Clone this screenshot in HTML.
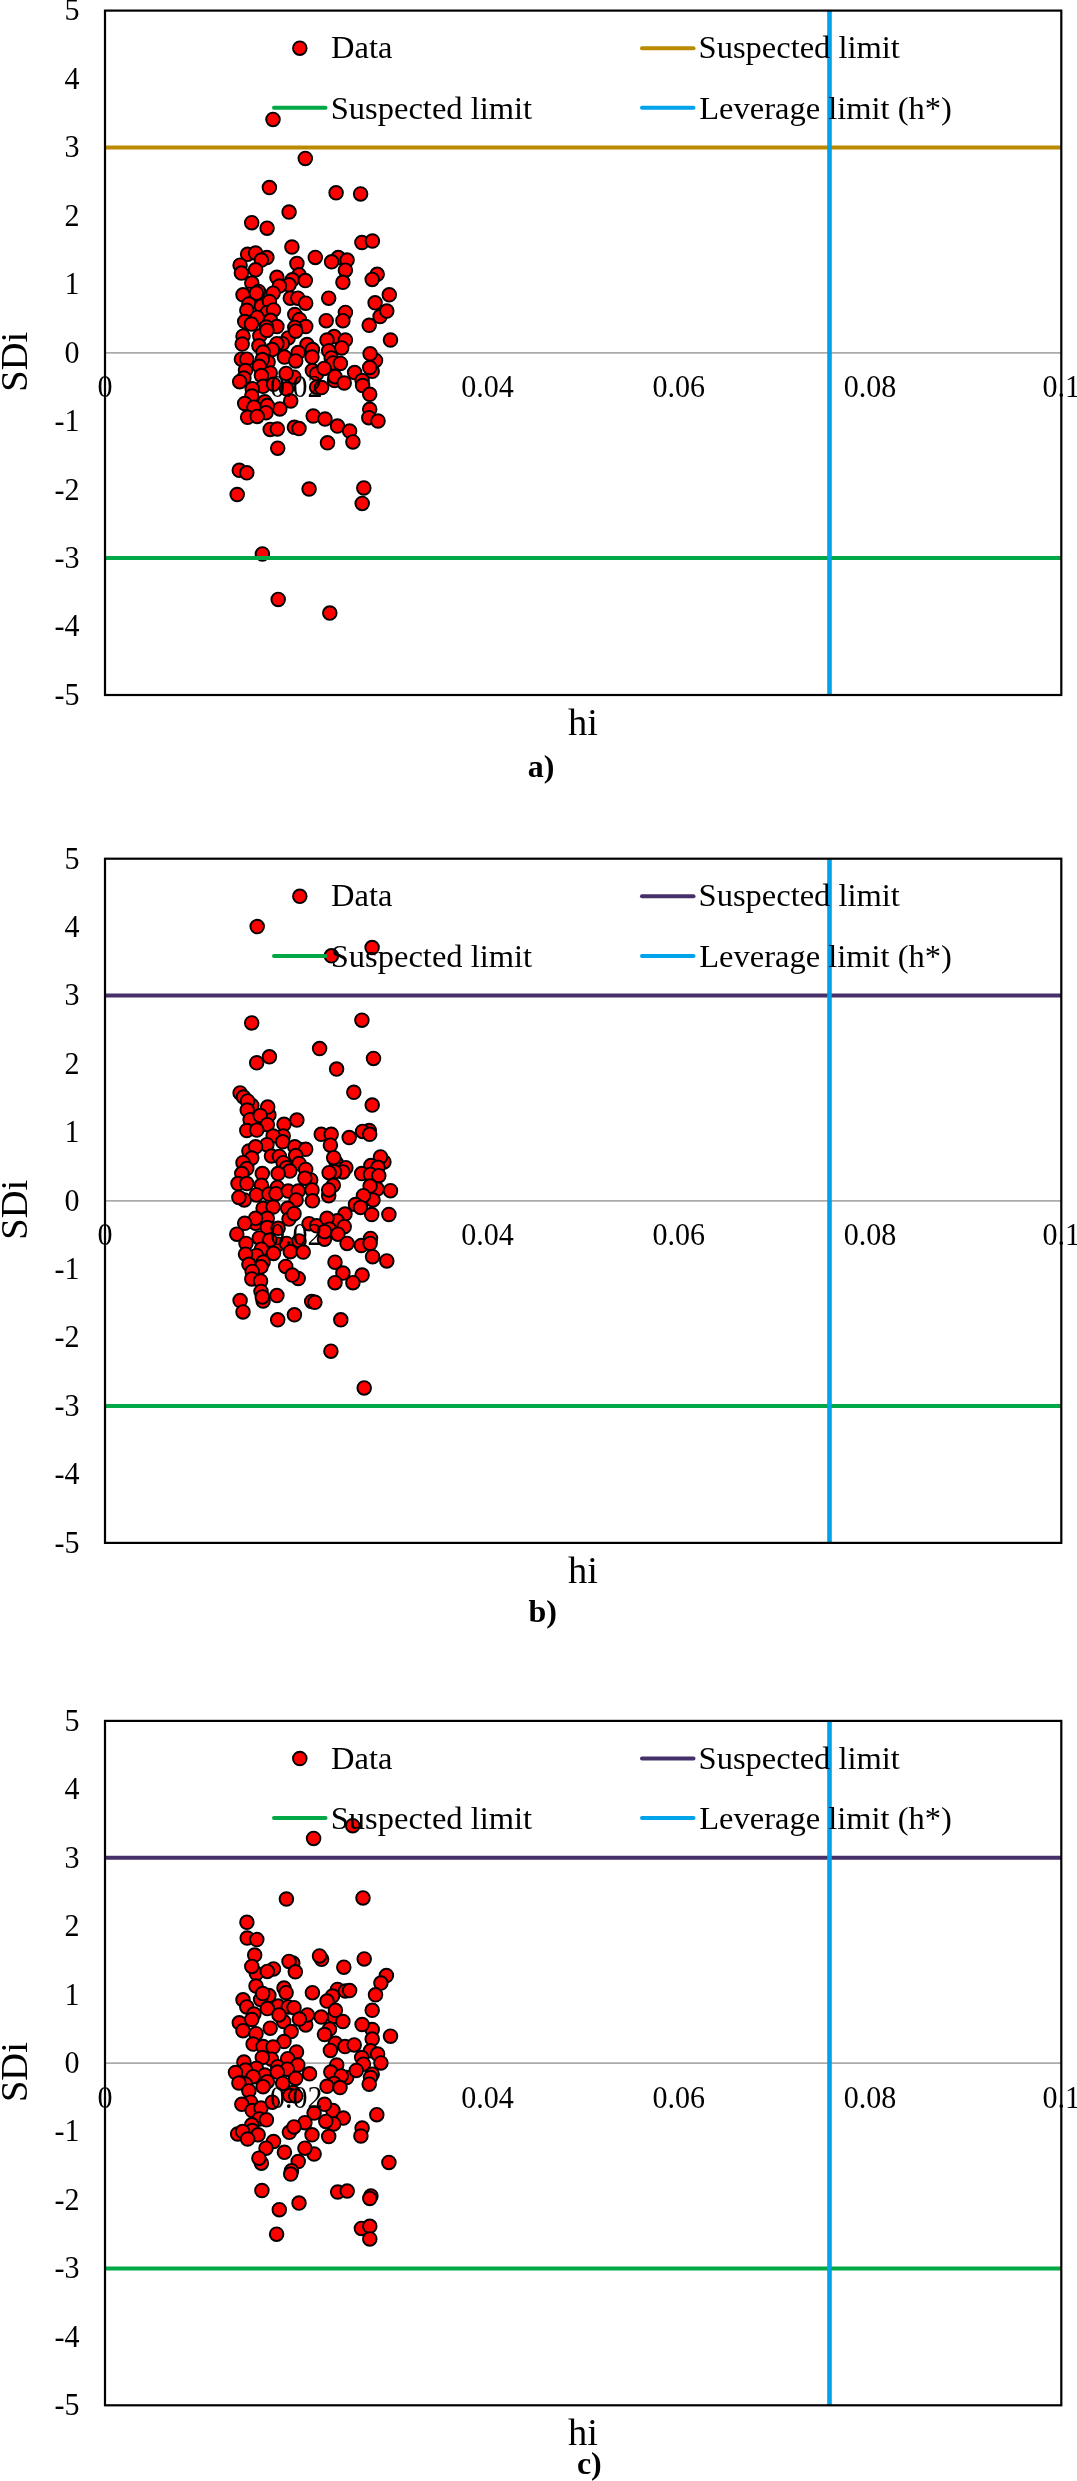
<!DOCTYPE html>
<html><head><meta charset="utf-8"><style>
html,body{margin:0;padding:0;background:#fff;}
svg{display:block;will-change:transform;}
text{font-family:"Liberation Serif",serif;fill:#000;}
.ax{font-size:31px;}
.lg{font-size:32.5px;}
.tt{font-size:38.5px;}
.cp{font-size:32px;font-weight:bold;}
</style></head><body>
<svg width="1077" height="2481" viewBox="0 0 1077 2481">
<rect x="0" y="0" width="1077" height="2481" fill="#fff"/>
<g>
<line x1="105.0" y1="352.8" x2="1061.3" y2="352.8" stroke="#ABABAB" stroke-width="1.7"/>
<text class="ax" transform="translate(79.5,704.8) scale(0.97,1)" text-anchor="end">-5</text>
<text class="ax" transform="translate(79.5,636.4) scale(0.97,1)" text-anchor="end">-4</text>
<text class="ax" transform="translate(79.5,567.9) scale(0.97,1)" text-anchor="end">-3</text>
<text class="ax" transform="translate(79.5,499.5) scale(0.97,1)" text-anchor="end">-2</text>
<text class="ax" transform="translate(79.5,431.0) scale(0.97,1)" text-anchor="end">-1</text>
<text class="ax" transform="translate(79.5,362.6) scale(0.97,1)" text-anchor="end">0</text>
<text class="ax" transform="translate(79.5,294.2) scale(0.97,1)" text-anchor="end">1</text>
<text class="ax" transform="translate(79.5,225.7) scale(0.97,1)" text-anchor="end">2</text>
<text class="ax" transform="translate(79.5,157.3) scale(0.97,1)" text-anchor="end">3</text>
<text class="ax" transform="translate(79.5,88.8) scale(0.97,1)" text-anchor="end">4</text>
<text class="ax" transform="translate(79.5,20.4) scale(0.97,1)" text-anchor="end">5</text>
<circle cx="273.0" cy="119.4" r="6.8" fill="#FF0000" stroke="#000" stroke-width="1.9"/>
<circle cx="305.3" cy="158.4" r="6.8" fill="#FF0000" stroke="#000" stroke-width="1.9"/>
<circle cx="269.4" cy="187.6" r="6.8" fill="#FF0000" stroke="#000" stroke-width="1.9"/>
<circle cx="336.1" cy="192.8" r="6.8" fill="#FF0000" stroke="#000" stroke-width="1.9"/>
<circle cx="360.6" cy="193.9" r="6.8" fill="#FF0000" stroke="#000" stroke-width="1.9"/>
<circle cx="289.1" cy="212.1" r="6.8" fill="#FF0000" stroke="#000" stroke-width="1.9"/>
<circle cx="251.7" cy="222.7" r="6.8" fill="#FF0000" stroke="#000" stroke-width="1.9"/>
<circle cx="267.1" cy="228.2" r="6.8" fill="#FF0000" stroke="#000" stroke-width="1.9"/>
<circle cx="361.9" cy="242.5" r="6.8" fill="#FF0000" stroke="#000" stroke-width="1.9"/>
<circle cx="372.4" cy="241.0" r="6.8" fill="#FF0000" stroke="#000" stroke-width="1.9"/>
<circle cx="291.9" cy="247.0" r="6.8" fill="#FF0000" stroke="#000" stroke-width="1.9"/>
<circle cx="315.3" cy="257.4" r="6.8" fill="#FF0000" stroke="#000" stroke-width="1.9"/>
<circle cx="247.6" cy="254.3" r="6.8" fill="#FF0000" stroke="#000" stroke-width="1.9"/>
<circle cx="266.9" cy="257.6" r="6.8" fill="#FF0000" stroke="#000" stroke-width="1.9"/>
<circle cx="255.6" cy="253.0" r="6.8" fill="#FF0000" stroke="#000" stroke-width="1.9"/>
<circle cx="261.4" cy="260.1" r="6.8" fill="#FF0000" stroke="#000" stroke-width="1.9"/>
<circle cx="240.1" cy="265.2" r="6.8" fill="#FF0000" stroke="#000" stroke-width="1.9"/>
<circle cx="241.4" cy="273.1" r="6.8" fill="#FF0000" stroke="#000" stroke-width="1.9"/>
<circle cx="255.6" cy="269.8" r="6.8" fill="#FF0000" stroke="#000" stroke-width="1.9"/>
<circle cx="296.9" cy="263.5" r="6.8" fill="#FF0000" stroke="#000" stroke-width="1.9"/>
<circle cx="299.0" cy="274.8" r="6.8" fill="#FF0000" stroke="#000" stroke-width="1.9"/>
<circle cx="276.9" cy="277.3" r="6.8" fill="#FF0000" stroke="#000" stroke-width="1.9"/>
<circle cx="292.3" cy="279.8" r="6.8" fill="#FF0000" stroke="#000" stroke-width="1.9"/>
<circle cx="305.3" cy="280.6" r="6.8" fill="#FF0000" stroke="#000" stroke-width="1.9"/>
<circle cx="289.0" cy="284.8" r="6.8" fill="#FF0000" stroke="#000" stroke-width="1.9"/>
<circle cx="279.4" cy="286.0" r="6.8" fill="#FF0000" stroke="#000" stroke-width="1.9"/>
<circle cx="251.8" cy="283.1" r="6.8" fill="#FF0000" stroke="#000" stroke-width="1.9"/>
<circle cx="273.1" cy="293.2" r="6.8" fill="#FF0000" stroke="#000" stroke-width="1.9"/>
<circle cx="249.3" cy="294.4" r="6.8" fill="#FF0000" stroke="#000" stroke-width="1.9"/>
<circle cx="243.0" cy="294.8" r="6.8" fill="#FF0000" stroke="#000" stroke-width="1.9"/>
<circle cx="258.5" cy="291.5" r="6.8" fill="#FF0000" stroke="#000" stroke-width="1.9"/>
<circle cx="256.4" cy="293.2" r="6.8" fill="#FF0000" stroke="#000" stroke-width="1.9"/>
<circle cx="290.3" cy="298.2" r="6.8" fill="#FF0000" stroke="#000" stroke-width="1.9"/>
<circle cx="297.8" cy="298.2" r="6.8" fill="#FF0000" stroke="#000" stroke-width="1.9"/>
<circle cx="305.7" cy="303.2" r="6.8" fill="#FF0000" stroke="#000" stroke-width="1.9"/>
<circle cx="248.9" cy="304.0" r="6.8" fill="#FF0000" stroke="#000" stroke-width="1.9"/>
<circle cx="246.8" cy="310.3" r="6.8" fill="#FF0000" stroke="#000" stroke-width="1.9"/>
<circle cx="261.4" cy="306.1" r="6.8" fill="#FF0000" stroke="#000" stroke-width="1.9"/>
<circle cx="269.4" cy="301.5" r="6.8" fill="#FF0000" stroke="#000" stroke-width="1.9"/>
<circle cx="267.3" cy="312.4" r="6.8" fill="#FF0000" stroke="#000" stroke-width="1.9"/>
<circle cx="273.5" cy="309.9" r="6.8" fill="#FF0000" stroke="#000" stroke-width="1.9"/>
<circle cx="294.8" cy="314.5" r="6.8" fill="#FF0000" stroke="#000" stroke-width="1.9"/>
<circle cx="299.4" cy="319.5" r="6.8" fill="#FF0000" stroke="#000" stroke-width="1.9"/>
<circle cx="257.2" cy="317.4" r="6.8" fill="#FF0000" stroke="#000" stroke-width="1.9"/>
<circle cx="270.6" cy="320.3" r="6.8" fill="#FF0000" stroke="#000" stroke-width="1.9"/>
<circle cx="244.7" cy="321.6" r="6.8" fill="#FF0000" stroke="#000" stroke-width="1.9"/>
<circle cx="251.4" cy="324.1" r="6.8" fill="#FF0000" stroke="#000" stroke-width="1.9"/>
<circle cx="276.9" cy="326.6" r="6.8" fill="#FF0000" stroke="#000" stroke-width="1.9"/>
<circle cx="266.4" cy="327.0" r="6.8" fill="#FF0000" stroke="#000" stroke-width="1.9"/>
<circle cx="305.7" cy="326.6" r="6.8" fill="#FF0000" stroke="#000" stroke-width="1.9"/>
<circle cx="294.8" cy="327.4" r="6.8" fill="#FF0000" stroke="#000" stroke-width="1.9"/>
<circle cx="338.3" cy="257.6" r="6.8" fill="#FF0000" stroke="#000" stroke-width="1.9"/>
<circle cx="331.6" cy="261.8" r="6.8" fill="#FF0000" stroke="#000" stroke-width="1.9"/>
<circle cx="347.1" cy="260.1" r="6.8" fill="#FF0000" stroke="#000" stroke-width="1.9"/>
<circle cx="345.4" cy="270.2" r="6.8" fill="#FF0000" stroke="#000" stroke-width="1.9"/>
<circle cx="342.9" cy="282.3" r="6.8" fill="#FF0000" stroke="#000" stroke-width="1.9"/>
<circle cx="328.7" cy="298.2" r="6.8" fill="#FF0000" stroke="#000" stroke-width="1.9"/>
<circle cx="377.2" cy="274.3" r="6.8" fill="#FF0000" stroke="#000" stroke-width="1.9"/>
<circle cx="372.2" cy="279.4" r="6.8" fill="#FF0000" stroke="#000" stroke-width="1.9"/>
<circle cx="389.3" cy="294.8" r="6.8" fill="#FF0000" stroke="#000" stroke-width="1.9"/>
<circle cx="375.1" cy="302.8" r="6.8" fill="#FF0000" stroke="#000" stroke-width="1.9"/>
<circle cx="380.1" cy="316.5" r="6.8" fill="#FF0000" stroke="#000" stroke-width="1.9"/>
<circle cx="386.8" cy="311.1" r="6.8" fill="#FF0000" stroke="#000" stroke-width="1.9"/>
<circle cx="345.4" cy="312.4" r="6.8" fill="#FF0000" stroke="#000" stroke-width="1.9"/>
<circle cx="342.9" cy="320.7" r="6.8" fill="#FF0000" stroke="#000" stroke-width="1.9"/>
<circle cx="326.2" cy="320.7" r="6.8" fill="#FF0000" stroke="#000" stroke-width="1.9"/>
<circle cx="369.2" cy="325.3" r="6.8" fill="#FF0000" stroke="#000" stroke-width="1.9"/>
<circle cx="288.2" cy="337.9" r="6.8" fill="#FF0000" stroke="#000" stroke-width="1.9"/>
<circle cx="259.8" cy="335.8" r="6.8" fill="#FF0000" stroke="#000" stroke-width="1.9"/>
<circle cx="266.9" cy="330.4" r="6.8" fill="#FF0000" stroke="#000" stroke-width="1.9"/>
<circle cx="295.7" cy="331.2" r="6.8" fill="#FF0000" stroke="#000" stroke-width="1.9"/>
<circle cx="243.0" cy="336.2" r="6.8" fill="#FF0000" stroke="#000" stroke-width="1.9"/>
<circle cx="242.2" cy="344.1" r="6.8" fill="#FF0000" stroke="#000" stroke-width="1.9"/>
<circle cx="258.9" cy="345.8" r="6.8" fill="#FF0000" stroke="#000" stroke-width="1.9"/>
<circle cx="282.3" cy="343.7" r="6.8" fill="#FF0000" stroke="#000" stroke-width="1.9"/>
<circle cx="276.9" cy="343.7" r="6.8" fill="#FF0000" stroke="#000" stroke-width="1.9"/>
<circle cx="272.3" cy="349.6" r="6.8" fill="#FF0000" stroke="#000" stroke-width="1.9"/>
<circle cx="307.0" cy="344.6" r="6.8" fill="#FF0000" stroke="#000" stroke-width="1.9"/>
<circle cx="298.2" cy="352.5" r="6.8" fill="#FF0000" stroke="#000" stroke-width="1.9"/>
<circle cx="284.4" cy="357.1" r="6.8" fill="#FF0000" stroke="#000" stroke-width="1.9"/>
<circle cx="295.7" cy="360.9" r="6.8" fill="#FF0000" stroke="#000" stroke-width="1.9"/>
<circle cx="312.4" cy="349.6" r="6.8" fill="#FF0000" stroke="#000" stroke-width="1.9"/>
<circle cx="312.0" cy="357.1" r="6.8" fill="#FF0000" stroke="#000" stroke-width="1.9"/>
<circle cx="241.4" cy="359.2" r="6.8" fill="#FF0000" stroke="#000" stroke-width="1.9"/>
<circle cx="246.8" cy="359.2" r="6.8" fill="#FF0000" stroke="#000" stroke-width="1.9"/>
<circle cx="263.1" cy="352.1" r="6.8" fill="#FF0000" stroke="#000" stroke-width="1.9"/>
<circle cx="268.1" cy="362.1" r="6.8" fill="#FF0000" stroke="#000" stroke-width="1.9"/>
<circle cx="262.3" cy="359.6" r="6.8" fill="#FF0000" stroke="#000" stroke-width="1.9"/>
<circle cx="259.3" cy="366.3" r="6.8" fill="#FF0000" stroke="#000" stroke-width="1.9"/>
<circle cx="245.5" cy="370.5" r="6.8" fill="#FF0000" stroke="#000" stroke-width="1.9"/>
<circle cx="270.2" cy="373.0" r="6.8" fill="#FF0000" stroke="#000" stroke-width="1.9"/>
<circle cx="294.0" cy="377.2" r="6.8" fill="#FF0000" stroke="#000" stroke-width="1.9"/>
<circle cx="286.1" cy="373.4" r="6.8" fill="#FF0000" stroke="#000" stroke-width="1.9"/>
<circle cx="243.9" cy="378.0" r="6.8" fill="#FF0000" stroke="#000" stroke-width="1.9"/>
<circle cx="239.7" cy="381.7" r="6.8" fill="#FF0000" stroke="#000" stroke-width="1.9"/>
<circle cx="261.4" cy="375.5" r="6.8" fill="#FF0000" stroke="#000" stroke-width="1.9"/>
<circle cx="263.1" cy="386.3" r="6.8" fill="#FF0000" stroke="#000" stroke-width="1.9"/>
<circle cx="273.5" cy="384.3" r="6.8" fill="#FF0000" stroke="#000" stroke-width="1.9"/>
<circle cx="286.5" cy="388.8" r="6.8" fill="#FF0000" stroke="#000" stroke-width="1.9"/>
<circle cx="252.2" cy="388.8" r="6.8" fill="#FF0000" stroke="#000" stroke-width="1.9"/>
<circle cx="251.8" cy="396.0" r="6.8" fill="#FF0000" stroke="#000" stroke-width="1.9"/>
<circle cx="290.7" cy="401.0" r="6.8" fill="#FF0000" stroke="#000" stroke-width="1.9"/>
<circle cx="264.8" cy="401.8" r="6.8" fill="#FF0000" stroke="#000" stroke-width="1.9"/>
<circle cx="244.7" cy="403.5" r="6.8" fill="#FF0000" stroke="#000" stroke-width="1.9"/>
<circle cx="253.9" cy="407.2" r="6.8" fill="#FF0000" stroke="#000" stroke-width="1.9"/>
<circle cx="279.8" cy="408.9" r="6.8" fill="#FF0000" stroke="#000" stroke-width="1.9"/>
<circle cx="312.4" cy="370.5" r="6.8" fill="#FF0000" stroke="#000" stroke-width="1.9"/>
<circle cx="316.6" cy="373.8" r="6.8" fill="#FF0000" stroke="#000" stroke-width="1.9"/>
<circle cx="316.6" cy="387.2" r="6.8" fill="#FF0000" stroke="#000" stroke-width="1.9"/>
<circle cx="267.3" cy="405.6" r="6.8" fill="#FF0000" stroke="#000" stroke-width="1.9"/>
<circle cx="334.1" cy="336.6" r="6.8" fill="#FF0000" stroke="#000" stroke-width="1.9"/>
<circle cx="390.5" cy="340.0" r="6.8" fill="#FF0000" stroke="#000" stroke-width="1.9"/>
<circle cx="327.0" cy="340.0" r="6.8" fill="#FF0000" stroke="#000" stroke-width="1.9"/>
<circle cx="345.4" cy="340.0" r="6.8" fill="#FF0000" stroke="#000" stroke-width="1.9"/>
<circle cx="341.7" cy="347.9" r="6.8" fill="#FF0000" stroke="#000" stroke-width="1.9"/>
<circle cx="328.7" cy="350.8" r="6.8" fill="#FF0000" stroke="#000" stroke-width="1.9"/>
<circle cx="375.5" cy="360.4" r="6.8" fill="#FF0000" stroke="#000" stroke-width="1.9"/>
<circle cx="370.1" cy="353.8" r="6.8" fill="#FF0000" stroke="#000" stroke-width="1.9"/>
<circle cx="372.2" cy="371.3" r="6.8" fill="#FF0000" stroke="#000" stroke-width="1.9"/>
<circle cx="369.7" cy="367.5" r="6.8" fill="#FF0000" stroke="#000" stroke-width="1.9"/>
<circle cx="331.2" cy="357.9" r="6.8" fill="#FF0000" stroke="#000" stroke-width="1.9"/>
<circle cx="332.9" cy="362.9" r="6.8" fill="#FF0000" stroke="#000" stroke-width="1.9"/>
<circle cx="340.4" cy="363.4" r="6.8" fill="#FF0000" stroke="#000" stroke-width="1.9"/>
<circle cx="324.1" cy="368.4" r="6.8" fill="#FF0000" stroke="#000" stroke-width="1.9"/>
<circle cx="334.6" cy="380.5" r="6.8" fill="#FF0000" stroke="#000" stroke-width="1.9"/>
<circle cx="335.0" cy="376.7" r="6.8" fill="#FF0000" stroke="#000" stroke-width="1.9"/>
<circle cx="344.2" cy="383.0" r="6.8" fill="#FF0000" stroke="#000" stroke-width="1.9"/>
<circle cx="321.6" cy="387.6" r="6.8" fill="#FF0000" stroke="#000" stroke-width="1.9"/>
<circle cx="354.6" cy="372.6" r="6.8" fill="#FF0000" stroke="#000" stroke-width="1.9"/>
<circle cx="362.1" cy="380.5" r="6.8" fill="#FF0000" stroke="#000" stroke-width="1.9"/>
<circle cx="362.6" cy="385.5" r="6.8" fill="#FF0000" stroke="#000" stroke-width="1.9"/>
<circle cx="369.7" cy="394.3" r="6.8" fill="#FF0000" stroke="#000" stroke-width="1.9"/>
<circle cx="369.7" cy="409.3" r="6.8" fill="#FF0000" stroke="#000" stroke-width="1.9"/>
<circle cx="266.0" cy="412.7" r="6.8" fill="#FF0000" stroke="#000" stroke-width="1.9"/>
<circle cx="247.6" cy="417.3" r="6.8" fill="#FF0000" stroke="#000" stroke-width="1.9"/>
<circle cx="257.2" cy="416.4" r="6.8" fill="#FF0000" stroke="#000" stroke-width="1.9"/>
<circle cx="270.2" cy="429.4" r="6.8" fill="#FF0000" stroke="#000" stroke-width="1.9"/>
<circle cx="277.3" cy="429.0" r="6.8" fill="#FF0000" stroke="#000" stroke-width="1.9"/>
<circle cx="294.4" cy="427.3" r="6.8" fill="#FF0000" stroke="#000" stroke-width="1.9"/>
<circle cx="299.0" cy="428.6" r="6.8" fill="#FF0000" stroke="#000" stroke-width="1.9"/>
<circle cx="277.7" cy="448.2" r="6.8" fill="#FF0000" stroke="#000" stroke-width="1.9"/>
<circle cx="239.3" cy="470.3" r="6.8" fill="#FF0000" stroke="#000" stroke-width="1.9"/>
<circle cx="246.8" cy="472.8" r="6.8" fill="#FF0000" stroke="#000" stroke-width="1.9"/>
<circle cx="237.2" cy="494.5" r="6.8" fill="#FF0000" stroke="#000" stroke-width="1.9"/>
<circle cx="309.1" cy="489.0" r="6.8" fill="#FF0000" stroke="#000" stroke-width="1.9"/>
<circle cx="313.2" cy="416.0" r="6.8" fill="#FF0000" stroke="#000" stroke-width="1.9"/>
<circle cx="325.0" cy="419.0" r="6.8" fill="#FF0000" stroke="#000" stroke-width="1.9"/>
<circle cx="337.5" cy="426.1" r="6.8" fill="#FF0000" stroke="#000" stroke-width="1.9"/>
<circle cx="349.6" cy="431.1" r="6.8" fill="#FF0000" stroke="#000" stroke-width="1.9"/>
<circle cx="352.9" cy="441.9" r="6.8" fill="#FF0000" stroke="#000" stroke-width="1.9"/>
<circle cx="327.5" cy="442.8" r="6.8" fill="#FF0000" stroke="#000" stroke-width="1.9"/>
<circle cx="368.8" cy="417.7" r="6.8" fill="#FF0000" stroke="#000" stroke-width="1.9"/>
<circle cx="378.0" cy="421.0" r="6.8" fill="#FF0000" stroke="#000" stroke-width="1.9"/>
<circle cx="363.8" cy="487.9" r="6.8" fill="#FF0000" stroke="#000" stroke-width="1.9"/>
<circle cx="362.2" cy="503.4" r="6.8" fill="#FF0000" stroke="#000" stroke-width="1.9"/>
<circle cx="262.4" cy="553.9" r="6.8" fill="#FF0000" stroke="#000" stroke-width="1.9"/>
<circle cx="278.2" cy="599.4" r="6.8" fill="#FF0000" stroke="#000" stroke-width="1.9"/>
<circle cx="329.8" cy="613.1" r="6.8" fill="#FF0000" stroke="#000" stroke-width="1.9"/>
<text class="ax" transform="translate(105.0,397.4) scale(0.97,1)" text-anchor="middle">0</text>
<text class="ax" transform="translate(296.3,397.4) scale(0.97,1)" text-anchor="middle">0.02</text>
<text class="ax" transform="translate(487.5,397.4) scale(0.97,1)" text-anchor="middle">0.04</text>
<text class="ax" transform="translate(678.8,397.4) scale(0.97,1)" text-anchor="middle">0.06</text>
<text class="ax" transform="translate(870.0,397.4) scale(0.97,1)" text-anchor="middle">0.08</text>
<text class="ax" transform="translate(1061.3,397.4) scale(0.97,1)" text-anchor="middle">0.1</text>
<line x1="105.0" y1="147.5" x2="1061.3" y2="147.5" stroke="#BB8A00" stroke-width="4"/>
<line x1="105.0" y1="558.1" x2="1061.3" y2="558.1" stroke="#00A846" stroke-width="4"/>
<line x1="829.5" y1="10.6" x2="829.5" y2="695.0" stroke="#00A2EA" stroke-width="4.6"/>
<rect x="105.0" y="10.6" width="956.3" height="684.4" fill="none" stroke="#000" stroke-width="2.2"/>
<circle cx="299.8" cy="48.2" r="6.8" fill="#FF0000" stroke="#000" stroke-width="1.9"/>
<text class="lg" x="331" y="58.2">Data</text>
<line x1="274" y1="107.8" x2="325.5" y2="107.8" stroke="#00A846" stroke-width="4" stroke-linecap="round"/>
<text class="lg" x="330.8" y="118.7">Suspected limit</text>
<line x1="642" y1="48.2" x2="693.5" y2="48.2" stroke="#BB8A00" stroke-width="4" stroke-linecap="round"/>
<text class="lg" x="698.6" y="58.2">Suspected limit</text>
<line x1="642" y1="107.8" x2="693.5" y2="107.8" stroke="#00A2EA" stroke-width="4" stroke-linecap="round"/>
<text class="lg" x="699.2" y="118.7">Leverage limit (h*)</text>
<text class="tt" transform="translate(27,361.8) rotate(-90)" text-anchor="middle">SDi</text>
<text class="tt" x="583" y="735.1" text-anchor="middle">hi</text>
<text class="cp" x="527.7" y="776.8">a)</text>
</g>
<g>
<line x1="105.0" y1="1200.8" x2="1061.3" y2="1200.8" stroke="#ABABAB" stroke-width="1.7"/>
<text class="ax" transform="translate(79.5,1552.7) scale(0.97,1)" text-anchor="end">-5</text>
<text class="ax" transform="translate(79.5,1484.3) scale(0.97,1)" text-anchor="end">-4</text>
<text class="ax" transform="translate(79.5,1415.9) scale(0.97,1)" text-anchor="end">-3</text>
<text class="ax" transform="translate(79.5,1347.4) scale(0.97,1)" text-anchor="end">-2</text>
<text class="ax" transform="translate(79.5,1279.0) scale(0.97,1)" text-anchor="end">-1</text>
<text class="ax" transform="translate(79.5,1210.6) scale(0.97,1)" text-anchor="end">0</text>
<text class="ax" transform="translate(79.5,1142.2) scale(0.97,1)" text-anchor="end">1</text>
<text class="ax" transform="translate(79.5,1073.8) scale(0.97,1)" text-anchor="end">2</text>
<text class="ax" transform="translate(79.5,1005.3) scale(0.97,1)" text-anchor="end">3</text>
<text class="ax" transform="translate(79.5,936.9) scale(0.97,1)" text-anchor="end">4</text>
<text class="ax" transform="translate(79.5,868.5) scale(0.97,1)" text-anchor="end">5</text>
<circle cx="257.2" cy="926.6" r="6.8" fill="#FF0000" stroke="#000" stroke-width="1.9"/>
<circle cx="372.1" cy="947.6" r="6.8" fill="#FF0000" stroke="#000" stroke-width="1.9"/>
<circle cx="331.4" cy="955.8" r="6.8" fill="#FF0000" stroke="#000" stroke-width="1.9"/>
<circle cx="251.7" cy="1022.9" r="6.8" fill="#FF0000" stroke="#000" stroke-width="1.9"/>
<circle cx="361.9" cy="1020.2" r="6.8" fill="#FF0000" stroke="#000" stroke-width="1.9"/>
<circle cx="319.6" cy="1048.6" r="6.8" fill="#FF0000" stroke="#000" stroke-width="1.9"/>
<circle cx="269.4" cy="1056.8" r="6.8" fill="#FF0000" stroke="#000" stroke-width="1.9"/>
<circle cx="256.7" cy="1062.8" r="6.8" fill="#FF0000" stroke="#000" stroke-width="1.9"/>
<circle cx="373.5" cy="1058.4" r="6.8" fill="#FF0000" stroke="#000" stroke-width="1.9"/>
<circle cx="336.6" cy="1069.1" r="6.8" fill="#FF0000" stroke="#000" stroke-width="1.9"/>
<circle cx="353.8" cy="1092.3" r="6.8" fill="#FF0000" stroke="#000" stroke-width="1.9"/>
<circle cx="372.2" cy="1105.1" r="6.8" fill="#FF0000" stroke="#000" stroke-width="1.9"/>
<circle cx="240.1" cy="1092.9" r="6.8" fill="#FF0000" stroke="#000" stroke-width="1.9"/>
<circle cx="243.5" cy="1097.1" r="6.8" fill="#FF0000" stroke="#000" stroke-width="1.9"/>
<circle cx="251.8" cy="1105.5" r="6.8" fill="#FF0000" stroke="#000" stroke-width="1.9"/>
<circle cx="247.6" cy="1100.9" r="6.8" fill="#FF0000" stroke="#000" stroke-width="1.9"/>
<circle cx="247.2" cy="1110.1" r="6.8" fill="#FF0000" stroke="#000" stroke-width="1.9"/>
<circle cx="268.9" cy="1115.1" r="6.8" fill="#FF0000" stroke="#000" stroke-width="1.9"/>
<circle cx="267.7" cy="1107.1" r="6.8" fill="#FF0000" stroke="#000" stroke-width="1.9"/>
<circle cx="250.1" cy="1119.7" r="6.8" fill="#FF0000" stroke="#000" stroke-width="1.9"/>
<circle cx="260.2" cy="1115.5" r="6.8" fill="#FF0000" stroke="#000" stroke-width="1.9"/>
<circle cx="267.3" cy="1124.7" r="6.8" fill="#FF0000" stroke="#000" stroke-width="1.9"/>
<circle cx="246.8" cy="1130.5" r="6.8" fill="#FF0000" stroke="#000" stroke-width="1.9"/>
<circle cx="256.8" cy="1130.1" r="6.8" fill="#FF0000" stroke="#000" stroke-width="1.9"/>
<circle cx="284.0" cy="1124.3" r="6.8" fill="#FF0000" stroke="#000" stroke-width="1.9"/>
<circle cx="296.9" cy="1120.1" r="6.8" fill="#FF0000" stroke="#000" stroke-width="1.9"/>
<circle cx="283.2" cy="1136.0" r="6.8" fill="#FF0000" stroke="#000" stroke-width="1.9"/>
<circle cx="273.1" cy="1136.0" r="6.8" fill="#FF0000" stroke="#000" stroke-width="1.9"/>
<circle cx="282.7" cy="1141.8" r="6.8" fill="#FF0000" stroke="#000" stroke-width="1.9"/>
<circle cx="266.9" cy="1144.7" r="6.8" fill="#FF0000" stroke="#000" stroke-width="1.9"/>
<circle cx="248.9" cy="1151.0" r="6.8" fill="#FF0000" stroke="#000" stroke-width="1.9"/>
<circle cx="255.6" cy="1146.8" r="6.8" fill="#FF0000" stroke="#000" stroke-width="1.9"/>
<circle cx="251.8" cy="1158.1" r="6.8" fill="#FF0000" stroke="#000" stroke-width="1.9"/>
<circle cx="243.0" cy="1162.7" r="6.8" fill="#FF0000" stroke="#000" stroke-width="1.9"/>
<circle cx="246.8" cy="1168.6" r="6.8" fill="#FF0000" stroke="#000" stroke-width="1.9"/>
<circle cx="241.8" cy="1173.6" r="6.8" fill="#FF0000" stroke="#000" stroke-width="1.9"/>
<circle cx="262.3" cy="1173.6" r="6.8" fill="#FF0000" stroke="#000" stroke-width="1.9"/>
<circle cx="271.5" cy="1156.0" r="6.8" fill="#FF0000" stroke="#000" stroke-width="1.9"/>
<circle cx="279.4" cy="1156.4" r="6.8" fill="#FF0000" stroke="#000" stroke-width="1.9"/>
<circle cx="299.0" cy="1149.3" r="6.8" fill="#FF0000" stroke="#000" stroke-width="1.9"/>
<circle cx="294.8" cy="1146.8" r="6.8" fill="#FF0000" stroke="#000" stroke-width="1.9"/>
<circle cx="305.7" cy="1149.3" r="6.8" fill="#FF0000" stroke="#000" stroke-width="1.9"/>
<circle cx="295.7" cy="1155.6" r="6.8" fill="#FF0000" stroke="#000" stroke-width="1.9"/>
<circle cx="283.2" cy="1162.7" r="6.8" fill="#FF0000" stroke="#000" stroke-width="1.9"/>
<circle cx="299.0" cy="1163.5" r="6.8" fill="#FF0000" stroke="#000" stroke-width="1.9"/>
<circle cx="305.7" cy="1169.4" r="6.8" fill="#FF0000" stroke="#000" stroke-width="1.9"/>
<circle cx="286.5" cy="1167.7" r="6.8" fill="#FF0000" stroke="#000" stroke-width="1.9"/>
<circle cx="289.8" cy="1171.1" r="6.8" fill="#FF0000" stroke="#000" stroke-width="1.9"/>
<circle cx="278.1" cy="1173.6" r="6.8" fill="#FF0000" stroke="#000" stroke-width="1.9"/>
<circle cx="321.2" cy="1134.3" r="6.8" fill="#FF0000" stroke="#000" stroke-width="1.9"/>
<circle cx="331.2" cy="1134.3" r="6.8" fill="#FF0000" stroke="#000" stroke-width="1.9"/>
<circle cx="330.4" cy="1145.2" r="6.8" fill="#FF0000" stroke="#000" stroke-width="1.9"/>
<circle cx="349.2" cy="1137.6" r="6.8" fill="#FF0000" stroke="#000" stroke-width="1.9"/>
<circle cx="369.2" cy="1130.5" r="6.8" fill="#FF0000" stroke="#000" stroke-width="1.9"/>
<circle cx="362.6" cy="1131.4" r="6.8" fill="#FF0000" stroke="#000" stroke-width="1.9"/>
<circle cx="369.7" cy="1134.3" r="6.8" fill="#FF0000" stroke="#000" stroke-width="1.9"/>
<circle cx="336.2" cy="1162.7" r="6.8" fill="#FF0000" stroke="#000" stroke-width="1.9"/>
<circle cx="333.7" cy="1157.7" r="6.8" fill="#FF0000" stroke="#000" stroke-width="1.9"/>
<circle cx="345.8" cy="1167.7" r="6.8" fill="#FF0000" stroke="#000" stroke-width="1.9"/>
<circle cx="342.9" cy="1171.9" r="6.8" fill="#FF0000" stroke="#000" stroke-width="1.9"/>
<circle cx="334.6" cy="1171.9" r="6.8" fill="#FF0000" stroke="#000" stroke-width="1.9"/>
<circle cx="329.1" cy="1172.7" r="6.8" fill="#FF0000" stroke="#000" stroke-width="1.9"/>
<circle cx="383.9" cy="1161.9" r="6.8" fill="#FF0000" stroke="#000" stroke-width="1.9"/>
<circle cx="380.5" cy="1156.9" r="6.8" fill="#FF0000" stroke="#000" stroke-width="1.9"/>
<circle cx="370.9" cy="1165.6" r="6.8" fill="#FF0000" stroke="#000" stroke-width="1.9"/>
<circle cx="378.0" cy="1167.3" r="6.8" fill="#FF0000" stroke="#000" stroke-width="1.9"/>
<circle cx="361.7" cy="1173.6" r="6.8" fill="#FF0000" stroke="#000" stroke-width="1.9"/>
<circle cx="370.5" cy="1174.4" r="6.8" fill="#FF0000" stroke="#000" stroke-width="1.9"/>
<circle cx="378.8" cy="1175.7" r="6.8" fill="#FF0000" stroke="#000" stroke-width="1.9"/>
<circle cx="238.0" cy="1183.6" r="6.8" fill="#FF0000" stroke="#000" stroke-width="1.9"/>
<circle cx="246.8" cy="1183.6" r="6.8" fill="#FF0000" stroke="#000" stroke-width="1.9"/>
<circle cx="261.4" cy="1185.3" r="6.8" fill="#FF0000" stroke="#000" stroke-width="1.9"/>
<circle cx="310.7" cy="1179.9" r="6.8" fill="#FF0000" stroke="#000" stroke-width="1.9"/>
<circle cx="304.9" cy="1178.2" r="6.8" fill="#FF0000" stroke="#000" stroke-width="1.9"/>
<circle cx="244.3" cy="1199.9" r="6.8" fill="#FF0000" stroke="#000" stroke-width="1.9"/>
<circle cx="238.9" cy="1197.4" r="6.8" fill="#FF0000" stroke="#000" stroke-width="1.9"/>
<circle cx="256.4" cy="1194.9" r="6.8" fill="#FF0000" stroke="#000" stroke-width="1.9"/>
<circle cx="277.3" cy="1187.4" r="6.8" fill="#FF0000" stroke="#000" stroke-width="1.9"/>
<circle cx="268.9" cy="1194.1" r="6.8" fill="#FF0000" stroke="#000" stroke-width="1.9"/>
<circle cx="276.0" cy="1193.7" r="6.8" fill="#FF0000" stroke="#000" stroke-width="1.9"/>
<circle cx="288.2" cy="1191.1" r="6.8" fill="#FF0000" stroke="#000" stroke-width="1.9"/>
<circle cx="298.2" cy="1191.1" r="6.8" fill="#FF0000" stroke="#000" stroke-width="1.9"/>
<circle cx="296.1" cy="1199.9" r="6.8" fill="#FF0000" stroke="#000" stroke-width="1.9"/>
<circle cx="312.0" cy="1189.9" r="6.8" fill="#FF0000" stroke="#000" stroke-width="1.9"/>
<circle cx="312.4" cy="1200.8" r="6.8" fill="#FF0000" stroke="#000" stroke-width="1.9"/>
<circle cx="263.1" cy="1208.3" r="6.8" fill="#FF0000" stroke="#000" stroke-width="1.9"/>
<circle cx="273.1" cy="1207.0" r="6.8" fill="#FF0000" stroke="#000" stroke-width="1.9"/>
<circle cx="287.7" cy="1208.3" r="6.8" fill="#FF0000" stroke="#000" stroke-width="1.9"/>
<circle cx="289.0" cy="1219.1" r="6.8" fill="#FF0000" stroke="#000" stroke-width="1.9"/>
<circle cx="294.0" cy="1213.7" r="6.8" fill="#FF0000" stroke="#000" stroke-width="1.9"/>
<circle cx="255.6" cy="1223.3" r="6.8" fill="#FF0000" stroke="#000" stroke-width="1.9"/>
<circle cx="267.3" cy="1218.3" r="6.8" fill="#FF0000" stroke="#000" stroke-width="1.9"/>
<circle cx="255.6" cy="1218.3" r="6.8" fill="#FF0000" stroke="#000" stroke-width="1.9"/>
<circle cx="244.7" cy="1223.3" r="6.8" fill="#FF0000" stroke="#000" stroke-width="1.9"/>
<circle cx="267.3" cy="1227.5" r="6.8" fill="#FF0000" stroke="#000" stroke-width="1.9"/>
<circle cx="278.1" cy="1228.3" r="6.8" fill="#FF0000" stroke="#000" stroke-width="1.9"/>
<circle cx="236.8" cy="1234.2" r="6.8" fill="#FF0000" stroke="#000" stroke-width="1.9"/>
<circle cx="259.3" cy="1237.9" r="6.8" fill="#FF0000" stroke="#000" stroke-width="1.9"/>
<circle cx="278.1" cy="1244.2" r="6.8" fill="#FF0000" stroke="#000" stroke-width="1.9"/>
<circle cx="269.8" cy="1240.0" r="6.8" fill="#FF0000" stroke="#000" stroke-width="1.9"/>
<circle cx="246.0" cy="1243.4" r="6.8" fill="#FF0000" stroke="#000" stroke-width="1.9"/>
<circle cx="309.1" cy="1223.7" r="6.8" fill="#FF0000" stroke="#000" stroke-width="1.9"/>
<circle cx="316.6" cy="1225.8" r="6.8" fill="#FF0000" stroke="#000" stroke-width="1.9"/>
<circle cx="286.5" cy="1243.4" r="6.8" fill="#FF0000" stroke="#000" stroke-width="1.9"/>
<circle cx="299.0" cy="1240.9" r="6.8" fill="#FF0000" stroke="#000" stroke-width="1.9"/>
<circle cx="290.3" cy="1251.7" r="6.8" fill="#FF0000" stroke="#000" stroke-width="1.9"/>
<circle cx="303.2" cy="1252.1" r="6.8" fill="#FF0000" stroke="#000" stroke-width="1.9"/>
<circle cx="261.4" cy="1249.2" r="6.8" fill="#FF0000" stroke="#000" stroke-width="1.9"/>
<circle cx="273.5" cy="1253.4" r="6.8" fill="#FF0000" stroke="#000" stroke-width="1.9"/>
<circle cx="256.4" cy="1255.5" r="6.8" fill="#FF0000" stroke="#000" stroke-width="1.9"/>
<circle cx="245.5" cy="1254.2" r="6.8" fill="#FF0000" stroke="#000" stroke-width="1.9"/>
<circle cx="333.3" cy="1185.3" r="6.8" fill="#FF0000" stroke="#000" stroke-width="1.9"/>
<circle cx="328.7" cy="1195.7" r="6.8" fill="#FF0000" stroke="#000" stroke-width="1.9"/>
<circle cx="328.7" cy="1189.9" r="6.8" fill="#FF0000" stroke="#000" stroke-width="1.9"/>
<circle cx="377.2" cy="1189.1" r="6.8" fill="#FF0000" stroke="#000" stroke-width="1.9"/>
<circle cx="370.1" cy="1186.1" r="6.8" fill="#FF0000" stroke="#000" stroke-width="1.9"/>
<circle cx="390.5" cy="1190.7" r="6.8" fill="#FF0000" stroke="#000" stroke-width="1.9"/>
<circle cx="373.0" cy="1199.9" r="6.8" fill="#FF0000" stroke="#000" stroke-width="1.9"/>
<circle cx="363.4" cy="1195.7" r="6.8" fill="#FF0000" stroke="#000" stroke-width="1.9"/>
<circle cx="355.5" cy="1204.5" r="6.8" fill="#FF0000" stroke="#000" stroke-width="1.9"/>
<circle cx="360.5" cy="1207.4" r="6.8" fill="#FF0000" stroke="#000" stroke-width="1.9"/>
<circle cx="371.7" cy="1214.5" r="6.8" fill="#FF0000" stroke="#000" stroke-width="1.9"/>
<circle cx="388.9" cy="1214.5" r="6.8" fill="#FF0000" stroke="#000" stroke-width="1.9"/>
<circle cx="345.0" cy="1214.1" r="6.8" fill="#FF0000" stroke="#000" stroke-width="1.9"/>
<circle cx="337.1" cy="1220.8" r="6.8" fill="#FF0000" stroke="#000" stroke-width="1.9"/>
<circle cx="327.0" cy="1218.3" r="6.8" fill="#FF0000" stroke="#000" stroke-width="1.9"/>
<circle cx="344.2" cy="1226.7" r="6.8" fill="#FF0000" stroke="#000" stroke-width="1.9"/>
<circle cx="329.5" cy="1229.2" r="6.8" fill="#FF0000" stroke="#000" stroke-width="1.9"/>
<circle cx="337.9" cy="1234.2" r="6.8" fill="#FF0000" stroke="#000" stroke-width="1.9"/>
<circle cx="324.5" cy="1239.2" r="6.8" fill="#FF0000" stroke="#000" stroke-width="1.9"/>
<circle cx="324.5" cy="1231.7" r="6.8" fill="#FF0000" stroke="#000" stroke-width="1.9"/>
<circle cx="347.1" cy="1243.4" r="6.8" fill="#FF0000" stroke="#000" stroke-width="1.9"/>
<circle cx="370.5" cy="1238.4" r="6.8" fill="#FF0000" stroke="#000" stroke-width="1.9"/>
<circle cx="361.3" cy="1245.5" r="6.8" fill="#FF0000" stroke="#000" stroke-width="1.9"/>
<circle cx="370.1" cy="1243.4" r="6.8" fill="#FF0000" stroke="#000" stroke-width="1.9"/>
<circle cx="372.6" cy="1256.7" r="6.8" fill="#FF0000" stroke="#000" stroke-width="1.9"/>
<circle cx="386.8" cy="1260.9" r="6.8" fill="#FF0000" stroke="#000" stroke-width="1.9"/>
<circle cx="263.1" cy="1262.2" r="6.8" fill="#FF0000" stroke="#000" stroke-width="1.9"/>
<circle cx="261.0" cy="1266.8" r="6.8" fill="#FF0000" stroke="#000" stroke-width="1.9"/>
<circle cx="248.9" cy="1264.3" r="6.8" fill="#FF0000" stroke="#000" stroke-width="1.9"/>
<circle cx="252.2" cy="1271.4" r="6.8" fill="#FF0000" stroke="#000" stroke-width="1.9"/>
<circle cx="251.8" cy="1278.9" r="6.8" fill="#FF0000" stroke="#000" stroke-width="1.9"/>
<circle cx="260.6" cy="1281.0" r="6.8" fill="#FF0000" stroke="#000" stroke-width="1.9"/>
<circle cx="285.7" cy="1266.4" r="6.8" fill="#FF0000" stroke="#000" stroke-width="1.9"/>
<circle cx="298.2" cy="1278.5" r="6.8" fill="#FF0000" stroke="#000" stroke-width="1.9"/>
<circle cx="292.3" cy="1275.1" r="6.8" fill="#FF0000" stroke="#000" stroke-width="1.9"/>
<circle cx="263.1" cy="1301.0" r="6.8" fill="#FF0000" stroke="#000" stroke-width="1.9"/>
<circle cx="261.0" cy="1291.4" r="6.8" fill="#FF0000" stroke="#000" stroke-width="1.9"/>
<circle cx="262.3" cy="1296.9" r="6.8" fill="#FF0000" stroke="#000" stroke-width="1.9"/>
<circle cx="276.9" cy="1295.6" r="6.8" fill="#FF0000" stroke="#000" stroke-width="1.9"/>
<circle cx="240.1" cy="1300.6" r="6.8" fill="#FF0000" stroke="#000" stroke-width="1.9"/>
<circle cx="243.0" cy="1311.9" r="6.8" fill="#FF0000" stroke="#000" stroke-width="1.9"/>
<circle cx="277.7" cy="1319.8" r="6.8" fill="#FF0000" stroke="#000" stroke-width="1.9"/>
<circle cx="294.4" cy="1314.8" r="6.8" fill="#FF0000" stroke="#000" stroke-width="1.9"/>
<circle cx="311.7" cy="1301.4" r="6.8" fill="#FF0000" stroke="#000" stroke-width="1.9"/>
<circle cx="314.9" cy="1302.3" r="6.8" fill="#FF0000" stroke="#000" stroke-width="1.9"/>
<circle cx="335.0" cy="1262.2" r="6.8" fill="#FF0000" stroke="#000" stroke-width="1.9"/>
<circle cx="342.9" cy="1273.1" r="6.8" fill="#FF0000" stroke="#000" stroke-width="1.9"/>
<circle cx="362.1" cy="1275.1" r="6.8" fill="#FF0000" stroke="#000" stroke-width="1.9"/>
<circle cx="335.0" cy="1282.7" r="6.8" fill="#FF0000" stroke="#000" stroke-width="1.9"/>
<circle cx="352.9" cy="1282.7" r="6.8" fill="#FF0000" stroke="#000" stroke-width="1.9"/>
<circle cx="340.8" cy="1319.8" r="6.8" fill="#FF0000" stroke="#000" stroke-width="1.9"/>
<circle cx="330.9" cy="1351.2" r="6.8" fill="#FF0000" stroke="#000" stroke-width="1.9"/>
<circle cx="364.2" cy="1387.9" r="6.8" fill="#FF0000" stroke="#000" stroke-width="1.9"/>
<text class="ax" transform="translate(105.0,1245.4) scale(0.97,1)" text-anchor="middle">0</text>
<text class="ax" transform="translate(296.3,1245.4) scale(0.97,1)" text-anchor="middle">0.02</text>
<text class="ax" transform="translate(487.5,1245.4) scale(0.97,1)" text-anchor="middle">0.04</text>
<text class="ax" transform="translate(678.8,1245.4) scale(0.97,1)" text-anchor="middle">0.06</text>
<text class="ax" transform="translate(870.0,1245.4) scale(0.97,1)" text-anchor="middle">0.08</text>
<text class="ax" transform="translate(1061.3,1245.4) scale(0.97,1)" text-anchor="middle">0.1</text>
<line x1="105.0" y1="995.5" x2="1061.3" y2="995.5" stroke="#46306A" stroke-width="4"/>
<line x1="105.0" y1="1406.1" x2="1061.3" y2="1406.1" stroke="#00A846" stroke-width="4"/>
<line x1="829.5" y1="858.7" x2="829.5" y2="1542.9" stroke="#00A2EA" stroke-width="4.6"/>
<rect x="105.0" y="858.7" width="956.3" height="684.2" fill="none" stroke="#000" stroke-width="2.2"/>
<circle cx="299.8" cy="896.3" r="6.8" fill="#FF0000" stroke="#000" stroke-width="1.9"/>
<text class="lg" x="331" y="906.3">Data</text>
<line x1="274" y1="955.9" x2="325.5" y2="955.9" stroke="#00A846" stroke-width="4" stroke-linecap="round"/>
<text class="lg" x="330.8" y="966.8">Suspected limit</text>
<line x1="642" y1="896.3" x2="693.5" y2="896.3" stroke="#46306A" stroke-width="4" stroke-linecap="round"/>
<text class="lg" x="698.6" y="906.3">Suspected limit</text>
<line x1="642" y1="955.9" x2="693.5" y2="955.9" stroke="#00A2EA" stroke-width="4" stroke-linecap="round"/>
<text class="lg" x="699.2" y="966.8">Leverage limit (h*)</text>
<text class="tt" transform="translate(27,1209.8) rotate(-90)" text-anchor="middle">SDi</text>
<text class="tt" x="583" y="1583.0" text-anchor="middle">hi</text>
<text class="cp" x="528.5" y="1621.6">b)</text>
</g>
<g>
<line x1="105.0" y1="2063.1" x2="1061.3" y2="2063.1" stroke="#ABABAB" stroke-width="1.7"/>
<text class="ax" transform="translate(79.5,2415.1) scale(0.97,1)" text-anchor="end">-5</text>
<text class="ax" transform="translate(79.5,2346.7) scale(0.97,1)" text-anchor="end">-4</text>
<text class="ax" transform="translate(79.5,2278.2) scale(0.97,1)" text-anchor="end">-3</text>
<text class="ax" transform="translate(79.5,2209.8) scale(0.97,1)" text-anchor="end">-2</text>
<text class="ax" transform="translate(79.5,2141.3) scale(0.97,1)" text-anchor="end">-1</text>
<text class="ax" transform="translate(79.5,2072.9) scale(0.97,1)" text-anchor="end">0</text>
<text class="ax" transform="translate(79.5,2004.5) scale(0.97,1)" text-anchor="end">1</text>
<text class="ax" transform="translate(79.5,1936.0) scale(0.97,1)" text-anchor="end">2</text>
<text class="ax" transform="translate(79.5,1867.6) scale(0.97,1)" text-anchor="end">3</text>
<text class="ax" transform="translate(79.5,1799.1) scale(0.97,1)" text-anchor="end">4</text>
<text class="ax" transform="translate(79.5,1730.7) scale(0.97,1)" text-anchor="end">5</text>
<circle cx="352.7" cy="1825.7" r="6.8" fill="#FF0000" stroke="#000" stroke-width="1.9"/>
<circle cx="313.6" cy="1838.4" r="6.8" fill="#FF0000" stroke="#000" stroke-width="1.9"/>
<circle cx="286.4" cy="1899.0" r="6.8" fill="#FF0000" stroke="#000" stroke-width="1.9"/>
<circle cx="363.0" cy="1897.9" r="6.8" fill="#FF0000" stroke="#000" stroke-width="1.9"/>
<circle cx="246.9" cy="1922.3" r="6.8" fill="#FF0000" stroke="#000" stroke-width="1.9"/>
<circle cx="247.2" cy="1938.0" r="6.8" fill="#FF0000" stroke="#000" stroke-width="1.9"/>
<circle cx="256.8" cy="1939.6" r="6.8" fill="#FF0000" stroke="#000" stroke-width="1.9"/>
<circle cx="254.7" cy="1955.1" r="6.8" fill="#FF0000" stroke="#000" stroke-width="1.9"/>
<circle cx="256.4" cy="1973.5" r="6.8" fill="#FF0000" stroke="#000" stroke-width="1.9"/>
<circle cx="251.8" cy="1966.4" r="6.8" fill="#FF0000" stroke="#000" stroke-width="1.9"/>
<circle cx="273.5" cy="1968.9" r="6.8" fill="#FF0000" stroke="#000" stroke-width="1.9"/>
<circle cx="267.3" cy="1971.4" r="6.8" fill="#FF0000" stroke="#000" stroke-width="1.9"/>
<circle cx="292.8" cy="1963.0" r="6.8" fill="#FF0000" stroke="#000" stroke-width="1.9"/>
<circle cx="289.0" cy="1961.4" r="6.8" fill="#FF0000" stroke="#000" stroke-width="1.9"/>
<circle cx="295.3" cy="1971.8" r="6.8" fill="#FF0000" stroke="#000" stroke-width="1.9"/>
<circle cx="284.0" cy="1988.1" r="6.8" fill="#FF0000" stroke="#000" stroke-width="1.9"/>
<circle cx="256.0" cy="1986.0" r="6.8" fill="#FF0000" stroke="#000" stroke-width="1.9"/>
<circle cx="268.9" cy="1995.6" r="6.8" fill="#FF0000" stroke="#000" stroke-width="1.9"/>
<circle cx="260.6" cy="1999.4" r="6.8" fill="#FF0000" stroke="#000" stroke-width="1.9"/>
<circle cx="262.7" cy="1993.5" r="6.8" fill="#FF0000" stroke="#000" stroke-width="1.9"/>
<circle cx="286.1" cy="1992.7" r="6.8" fill="#FF0000" stroke="#000" stroke-width="1.9"/>
<circle cx="312.4" cy="1992.7" r="6.8" fill="#FF0000" stroke="#000" stroke-width="1.9"/>
<circle cx="243.0" cy="1999.8" r="6.8" fill="#FF0000" stroke="#000" stroke-width="1.9"/>
<circle cx="246.8" cy="2006.9" r="6.8" fill="#FF0000" stroke="#000" stroke-width="1.9"/>
<circle cx="278.1" cy="2006.1" r="6.8" fill="#FF0000" stroke="#000" stroke-width="1.9"/>
<circle cx="267.3" cy="2008.6" r="6.8" fill="#FF0000" stroke="#000" stroke-width="1.9"/>
<circle cx="288.2" cy="2006.9" r="6.8" fill="#FF0000" stroke="#000" stroke-width="1.9"/>
<circle cx="294.0" cy="2007.7" r="6.8" fill="#FF0000" stroke="#000" stroke-width="1.9"/>
<circle cx="321.6" cy="1959.3" r="6.8" fill="#FF0000" stroke="#000" stroke-width="1.9"/>
<circle cx="319.5" cy="1955.9" r="6.8" fill="#FF0000" stroke="#000" stroke-width="1.9"/>
<circle cx="343.8" cy="1967.2" r="6.8" fill="#FF0000" stroke="#000" stroke-width="1.9"/>
<circle cx="364.2" cy="1958.9" r="6.8" fill="#FF0000" stroke="#000" stroke-width="1.9"/>
<circle cx="386.4" cy="1975.6" r="6.8" fill="#FF0000" stroke="#000" stroke-width="1.9"/>
<circle cx="380.9" cy="1983.1" r="6.8" fill="#FF0000" stroke="#000" stroke-width="1.9"/>
<circle cx="375.5" cy="1994.8" r="6.8" fill="#FF0000" stroke="#000" stroke-width="1.9"/>
<circle cx="337.5" cy="1989.4" r="6.8" fill="#FF0000" stroke="#000" stroke-width="1.9"/>
<circle cx="345.4" cy="1991.0" r="6.8" fill="#FF0000" stroke="#000" stroke-width="1.9"/>
<circle cx="349.6" cy="1990.6" r="6.8" fill="#FF0000" stroke="#000" stroke-width="1.9"/>
<circle cx="332.5" cy="1996.0" r="6.8" fill="#FF0000" stroke="#000" stroke-width="1.9"/>
<circle cx="327.0" cy="2001.1" r="6.8" fill="#FF0000" stroke="#000" stroke-width="1.9"/>
<circle cx="253.9" cy="2014.0" r="6.8" fill="#FF0000" stroke="#000" stroke-width="1.9"/>
<circle cx="239.3" cy="2022.8" r="6.8" fill="#FF0000" stroke="#000" stroke-width="1.9"/>
<circle cx="251.8" cy="2019.5" r="6.8" fill="#FF0000" stroke="#000" stroke-width="1.9"/>
<circle cx="243.0" cy="2030.7" r="6.8" fill="#FF0000" stroke="#000" stroke-width="1.9"/>
<circle cx="256.0" cy="2033.7" r="6.8" fill="#FF0000" stroke="#000" stroke-width="1.9"/>
<circle cx="270.2" cy="2028.2" r="6.8" fill="#FF0000" stroke="#000" stroke-width="1.9"/>
<circle cx="283.6" cy="2021.5" r="6.8" fill="#FF0000" stroke="#000" stroke-width="1.9"/>
<circle cx="279.0" cy="2014.9" r="6.8" fill="#FF0000" stroke="#000" stroke-width="1.9"/>
<circle cx="305.7" cy="2024.9" r="6.8" fill="#FF0000" stroke="#000" stroke-width="1.9"/>
<circle cx="307.4" cy="2014.9" r="6.8" fill="#FF0000" stroke="#000" stroke-width="1.9"/>
<circle cx="299.4" cy="2019.0" r="6.8" fill="#FF0000" stroke="#000" stroke-width="1.9"/>
<circle cx="291.1" cy="2031.6" r="6.8" fill="#FF0000" stroke="#000" stroke-width="1.9"/>
<circle cx="284.0" cy="2041.6" r="6.8" fill="#FF0000" stroke="#000" stroke-width="1.9"/>
<circle cx="253.1" cy="2044.1" r="6.8" fill="#FF0000" stroke="#000" stroke-width="1.9"/>
<circle cx="263.1" cy="2046.6" r="6.8" fill="#FF0000" stroke="#000" stroke-width="1.9"/>
<circle cx="273.1" cy="2047.0" r="6.8" fill="#FF0000" stroke="#000" stroke-width="1.9"/>
<circle cx="271.5" cy="2059.2" r="6.8" fill="#FF0000" stroke="#000" stroke-width="1.9"/>
<circle cx="262.3" cy="2057.5" r="6.8" fill="#FF0000" stroke="#000" stroke-width="1.9"/>
<circle cx="296.5" cy="2052.0" r="6.8" fill="#FF0000" stroke="#000" stroke-width="1.9"/>
<circle cx="287.7" cy="2058.7" r="6.8" fill="#FF0000" stroke="#000" stroke-width="1.9"/>
<circle cx="297.8" cy="2065.0" r="6.8" fill="#FF0000" stroke="#000" stroke-width="1.9"/>
<circle cx="243.9" cy="2062.1" r="6.8" fill="#FF0000" stroke="#000" stroke-width="1.9"/>
<circle cx="256.4" cy="2068.3" r="6.8" fill="#FF0000" stroke="#000" stroke-width="1.9"/>
<circle cx="245.5" cy="2070.0" r="6.8" fill="#FF0000" stroke="#000" stroke-width="1.9"/>
<circle cx="235.5" cy="2072.5" r="6.8" fill="#FF0000" stroke="#000" stroke-width="1.9"/>
<circle cx="277.7" cy="2066.7" r="6.8" fill="#FF0000" stroke="#000" stroke-width="1.9"/>
<circle cx="287.3" cy="2069.2" r="6.8" fill="#FF0000" stroke="#000" stroke-width="1.9"/>
<circle cx="264.8" cy="2075.0" r="6.8" fill="#FF0000" stroke="#000" stroke-width="1.9"/>
<circle cx="277.3" cy="2072.1" r="6.8" fill="#FF0000" stroke="#000" stroke-width="1.9"/>
<circle cx="309.5" cy="2073.8" r="6.8" fill="#FF0000" stroke="#000" stroke-width="1.9"/>
<circle cx="295.7" cy="2078.4" r="6.8" fill="#FF0000" stroke="#000" stroke-width="1.9"/>
<circle cx="253.1" cy="2076.7" r="6.8" fill="#FF0000" stroke="#000" stroke-width="1.9"/>
<circle cx="245.5" cy="2084.2" r="6.8" fill="#FF0000" stroke="#000" stroke-width="1.9"/>
<circle cx="238.9" cy="2083.0" r="6.8" fill="#FF0000" stroke="#000" stroke-width="1.9"/>
<circle cx="267.3" cy="2081.7" r="6.8" fill="#FF0000" stroke="#000" stroke-width="1.9"/>
<circle cx="282.7" cy="2083.4" r="6.8" fill="#FF0000" stroke="#000" stroke-width="1.9"/>
<circle cx="248.9" cy="2090.9" r="6.8" fill="#FF0000" stroke="#000" stroke-width="1.9"/>
<circle cx="263.1" cy="2086.7" r="6.8" fill="#FF0000" stroke="#000" stroke-width="1.9"/>
<circle cx="293.2" cy="2092.6" r="6.8" fill="#FF0000" stroke="#000" stroke-width="1.9"/>
<circle cx="334.1" cy="2016.5" r="6.8" fill="#FF0000" stroke="#000" stroke-width="1.9"/>
<circle cx="335.4" cy="2010.3" r="6.8" fill="#FF0000" stroke="#000" stroke-width="1.9"/>
<circle cx="321.2" cy="2017.0" r="6.8" fill="#FF0000" stroke="#000" stroke-width="1.9"/>
<circle cx="342.9" cy="2021.5" r="6.8" fill="#FF0000" stroke="#000" stroke-width="1.9"/>
<circle cx="329.5" cy="2029.1" r="6.8" fill="#FF0000" stroke="#000" stroke-width="1.9"/>
<circle cx="324.5" cy="2034.5" r="6.8" fill="#FF0000" stroke="#000" stroke-width="1.9"/>
<circle cx="372.2" cy="2010.3" r="6.8" fill="#FF0000" stroke="#000" stroke-width="1.9"/>
<circle cx="372.2" cy="2029.5" r="6.8" fill="#FF0000" stroke="#000" stroke-width="1.9"/>
<circle cx="362.1" cy="2024.5" r="6.8" fill="#FF0000" stroke="#000" stroke-width="1.9"/>
<circle cx="372.2" cy="2039.1" r="6.8" fill="#FF0000" stroke="#000" stroke-width="1.9"/>
<circle cx="390.5" cy="2036.2" r="6.8" fill="#FF0000" stroke="#000" stroke-width="1.9"/>
<circle cx="335.4" cy="2043.3" r="6.8" fill="#FF0000" stroke="#000" stroke-width="1.9"/>
<circle cx="330.4" cy="2050.4" r="6.8" fill="#FF0000" stroke="#000" stroke-width="1.9"/>
<circle cx="345.0" cy="2046.6" r="6.8" fill="#FF0000" stroke="#000" stroke-width="1.9"/>
<circle cx="354.2" cy="2044.9" r="6.8" fill="#FF0000" stroke="#000" stroke-width="1.9"/>
<circle cx="370.5" cy="2050.8" r="6.8" fill="#FF0000" stroke="#000" stroke-width="1.9"/>
<circle cx="377.6" cy="2054.1" r="6.8" fill="#FF0000" stroke="#000" stroke-width="1.9"/>
<circle cx="361.7" cy="2057.5" r="6.8" fill="#FF0000" stroke="#000" stroke-width="1.9"/>
<circle cx="363.4" cy="2064.2" r="6.8" fill="#FF0000" stroke="#000" stroke-width="1.9"/>
<circle cx="380.9" cy="2062.9" r="6.8" fill="#FF0000" stroke="#000" stroke-width="1.9"/>
<circle cx="336.7" cy="2065.0" r="6.8" fill="#FF0000" stroke="#000" stroke-width="1.9"/>
<circle cx="330.8" cy="2072.1" r="6.8" fill="#FF0000" stroke="#000" stroke-width="1.9"/>
<circle cx="346.7" cy="2077.5" r="6.8" fill="#FF0000" stroke="#000" stroke-width="1.9"/>
<circle cx="341.2" cy="2075.9" r="6.8" fill="#FF0000" stroke="#000" stroke-width="1.9"/>
<circle cx="356.3" cy="2070.4" r="6.8" fill="#FF0000" stroke="#000" stroke-width="1.9"/>
<circle cx="372.2" cy="2074.2" r="6.8" fill="#FF0000" stroke="#000" stroke-width="1.9"/>
<circle cx="370.5" cy="2077.5" r="6.8" fill="#FF0000" stroke="#000" stroke-width="1.9"/>
<circle cx="369.2" cy="2084.2" r="6.8" fill="#FF0000" stroke="#000" stroke-width="1.9"/>
<circle cx="334.1" cy="2083.4" r="6.8" fill="#FF0000" stroke="#000" stroke-width="1.9"/>
<circle cx="327.0" cy="2086.3" r="6.8" fill="#FF0000" stroke="#000" stroke-width="1.9"/>
<circle cx="340.0" cy="2087.6" r="6.8" fill="#FF0000" stroke="#000" stroke-width="1.9"/>
<circle cx="250.6" cy="2102.2" r="6.8" fill="#FF0000" stroke="#000" stroke-width="1.9"/>
<circle cx="241.8" cy="2104.3" r="6.8" fill="#FF0000" stroke="#000" stroke-width="1.9"/>
<circle cx="252.2" cy="2110.6" r="6.8" fill="#FF0000" stroke="#000" stroke-width="1.9"/>
<circle cx="261.0" cy="2108.1" r="6.8" fill="#FF0000" stroke="#000" stroke-width="1.9"/>
<circle cx="272.3" cy="2102.2" r="6.8" fill="#FF0000" stroke="#000" stroke-width="1.9"/>
<circle cx="289.8" cy="2095.5" r="6.8" fill="#FF0000" stroke="#000" stroke-width="1.9"/>
<circle cx="295.7" cy="2095.9" r="6.8" fill="#FF0000" stroke="#000" stroke-width="1.9"/>
<circle cx="259.3" cy="2118.9" r="6.8" fill="#FF0000" stroke="#000" stroke-width="1.9"/>
<circle cx="266.4" cy="2119.8" r="6.8" fill="#FF0000" stroke="#000" stroke-width="1.9"/>
<circle cx="251.8" cy="2124.8" r="6.8" fill="#FF0000" stroke="#000" stroke-width="1.9"/>
<circle cx="237.6" cy="2134.0" r="6.8" fill="#FF0000" stroke="#000" stroke-width="1.9"/>
<circle cx="252.2" cy="2130.6" r="6.8" fill="#FF0000" stroke="#000" stroke-width="1.9"/>
<circle cx="242.6" cy="2131.5" r="6.8" fill="#FF0000" stroke="#000" stroke-width="1.9"/>
<circle cx="258.1" cy="2134.8" r="6.8" fill="#FF0000" stroke="#000" stroke-width="1.9"/>
<circle cx="247.6" cy="2139.0" r="6.8" fill="#FF0000" stroke="#000" stroke-width="1.9"/>
<circle cx="314.1" cy="2113.1" r="6.8" fill="#FF0000" stroke="#000" stroke-width="1.9"/>
<circle cx="304.9" cy="2122.7" r="6.8" fill="#FF0000" stroke="#000" stroke-width="1.9"/>
<circle cx="289.4" cy="2132.3" r="6.8" fill="#FF0000" stroke="#000" stroke-width="1.9"/>
<circle cx="294.0" cy="2126.9" r="6.8" fill="#FF0000" stroke="#000" stroke-width="1.9"/>
<circle cx="312.0" cy="2134.8" r="6.8" fill="#FF0000" stroke="#000" stroke-width="1.9"/>
<circle cx="273.5" cy="2141.5" r="6.8" fill="#FF0000" stroke="#000" stroke-width="1.9"/>
<circle cx="266.0" cy="2148.2" r="6.8" fill="#FF0000" stroke="#000" stroke-width="1.9"/>
<circle cx="284.4" cy="2152.3" r="6.8" fill="#FF0000" stroke="#000" stroke-width="1.9"/>
<circle cx="314.1" cy="2154.0" r="6.8" fill="#FF0000" stroke="#000" stroke-width="1.9"/>
<circle cx="304.9" cy="2148.2" r="6.8" fill="#FF0000" stroke="#000" stroke-width="1.9"/>
<circle cx="261.4" cy="2163.2" r="6.8" fill="#FF0000" stroke="#000" stroke-width="1.9"/>
<circle cx="258.9" cy="2158.2" r="6.8" fill="#FF0000" stroke="#000" stroke-width="1.9"/>
<circle cx="298.2" cy="2161.5" r="6.8" fill="#FF0000" stroke="#000" stroke-width="1.9"/>
<circle cx="291.5" cy="2170.7" r="6.8" fill="#FF0000" stroke="#000" stroke-width="1.9"/>
<circle cx="290.7" cy="2174.1" r="6.8" fill="#FF0000" stroke="#000" stroke-width="1.9"/>
<circle cx="332.9" cy="2110.6" r="6.8" fill="#FF0000" stroke="#000" stroke-width="1.9"/>
<circle cx="324.5" cy="2104.3" r="6.8" fill="#FF0000" stroke="#000" stroke-width="1.9"/>
<circle cx="343.3" cy="2118.1" r="6.8" fill="#FF0000" stroke="#000" stroke-width="1.9"/>
<circle cx="333.7" cy="2123.9" r="6.8" fill="#FF0000" stroke="#000" stroke-width="1.9"/>
<circle cx="325.8" cy="2121.4" r="6.8" fill="#FF0000" stroke="#000" stroke-width="1.9"/>
<circle cx="328.7" cy="2136.5" r="6.8" fill="#FF0000" stroke="#000" stroke-width="1.9"/>
<circle cx="362.1" cy="2128.1" r="6.8" fill="#FF0000" stroke="#000" stroke-width="1.9"/>
<circle cx="360.9" cy="2136.0" r="6.8" fill="#FF0000" stroke="#000" stroke-width="1.9"/>
<circle cx="376.8" cy="2114.7" r="6.8" fill="#FF0000" stroke="#000" stroke-width="1.9"/>
<circle cx="388.9" cy="2162.4" r="6.8" fill="#FF0000" stroke="#000" stroke-width="1.9"/>
<circle cx="261.9" cy="2190.5" r="6.8" fill="#FF0000" stroke="#000" stroke-width="1.9"/>
<circle cx="279.3" cy="2209.7" r="6.8" fill="#FF0000" stroke="#000" stroke-width="1.9"/>
<circle cx="299.0" cy="2203.1" r="6.8" fill="#FF0000" stroke="#000" stroke-width="1.9"/>
<circle cx="276.6" cy="2234.2" r="6.8" fill="#FF0000" stroke="#000" stroke-width="1.9"/>
<circle cx="337.7" cy="2192.0" r="6.8" fill="#FF0000" stroke="#000" stroke-width="1.9"/>
<circle cx="347.2" cy="2191.1" r="6.8" fill="#FF0000" stroke="#000" stroke-width="1.9"/>
<circle cx="370.9" cy="2196.0" r="6.8" fill="#FF0000" stroke="#000" stroke-width="1.9"/>
<circle cx="369.8" cy="2198.4" r="6.8" fill="#FF0000" stroke="#000" stroke-width="1.9"/>
<circle cx="361.4" cy="2228.4" r="6.8" fill="#FF0000" stroke="#000" stroke-width="1.9"/>
<circle cx="369.8" cy="2226.3" r="6.8" fill="#FF0000" stroke="#000" stroke-width="1.9"/>
<circle cx="369.8" cy="2238.9" r="6.8" fill="#FF0000" stroke="#000" stroke-width="1.9"/>
<text class="ax" transform="translate(105.0,2107.7) scale(0.97,1)" text-anchor="middle">0</text>
<text class="ax" transform="translate(296.3,2107.7) scale(0.97,1)" text-anchor="middle">0.02</text>
<text class="ax" transform="translate(487.5,2107.7) scale(0.97,1)" text-anchor="middle">0.04</text>
<text class="ax" transform="translate(678.8,2107.7) scale(0.97,1)" text-anchor="middle">0.06</text>
<text class="ax" transform="translate(870.0,2107.7) scale(0.97,1)" text-anchor="middle">0.08</text>
<text class="ax" transform="translate(1061.3,2107.7) scale(0.97,1)" text-anchor="middle">0.1</text>
<line x1="105.0" y1="1857.8" x2="1061.3" y2="1857.8" stroke="#46306A" stroke-width="4"/>
<line x1="105.0" y1="2268.4" x2="1061.3" y2="2268.4" stroke="#00A846" stroke-width="4"/>
<line x1="829.5" y1="1720.9" x2="829.5" y2="2405.3" stroke="#00A2EA" stroke-width="4.6"/>
<rect x="105.0" y="1720.9" width="956.3" height="684.4000000000001" fill="none" stroke="#000" stroke-width="2.2"/>
<circle cx="299.8" cy="1758.5" r="6.8" fill="#FF0000" stroke="#000" stroke-width="1.9"/>
<text class="lg" x="331" y="1768.5">Data</text>
<line x1="274" y1="1818.1" x2="325.5" y2="1818.1" stroke="#00A846" stroke-width="4" stroke-linecap="round"/>
<text class="lg" x="330.8" y="1829.0">Suspected limit</text>
<line x1="642" y1="1758.5" x2="693.5" y2="1758.5" stroke="#46306A" stroke-width="4" stroke-linecap="round"/>
<text class="lg" x="698.6" y="1768.5">Suspected limit</text>
<line x1="642" y1="1818.1" x2="693.5" y2="1818.1" stroke="#00A2EA" stroke-width="4" stroke-linecap="round"/>
<text class="lg" x="699.2" y="1829.0">Leverage limit (h*)</text>
<text class="tt" transform="translate(27,2072.1) rotate(-90)" text-anchor="middle">SDi</text>
<text class="tt" x="583" y="2445.4" text-anchor="middle">hi</text>
<text class="cp" x="576.9" y="2474.4">c)</text>
</g>
</svg>
</body></html>
